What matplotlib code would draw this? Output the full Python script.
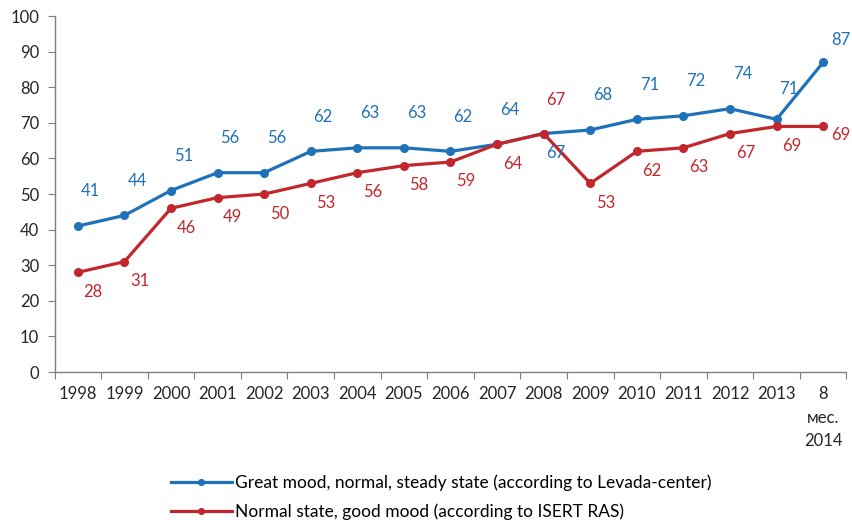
import numpy as np
import matplotlib
matplotlib.use('Agg')
import matplotlib.pyplot as plt

plt.rcParams['font.family'] = ['Lato', 'DejaVu Sans']

# data
years = ['1998', '1999', '2000', '2001', '2002', '2003', '2004', '2005', '2006',
         '2007', '2008', '2009', '2010', '2011', '2012', '2013', '8\nмес.\n2014']
levada = [41, 44, 51, 56, 56, 62, 63, 63, 62, 64, 67, 68, 71, 72, 74, 71, 87]
isert = [28, 31, 46, 49, 50, 53, 56, 58, 59, 64, 67, 53, 62, 63, 67, 69, 69]

levada_name = 'Great mood, normal, steady state (according to Levada-center)'
isert_name = 'Normal state, good mood (according to ISERT RAS)'

blue = '#1f72b8'
red = '#c1272d'
grey = '#7f7f7f'

fig = plt.figure(figsize=(8.52, 5.2), dpi=100)
ax = fig.add_axes([0.064, 0.2846, 0.9295, 0.6844])

x = np.arange(len(years))
ax.plot(x, levada, color=blue, lw=2.3, marker='o', ms=5.5, label=levada_name, zorder=3)
ax.plot(x, isert, color=red, lw=2.3, marker='o', ms=5.5, label=isert_name, zorder=3)

# value labels (offsets in points); a few are moved to avoid overlaps
blue_off = {10: (9, -14), 15: (9, 22), 16: (13, 16)}
red_off = {10: (9, 24), 16: (13, -6)}
for i, v in enumerate(levada):
    dx, dy = blue_off.get(i, (9, 25))
    ax.annotate(str(v), (x[i], v), xytext=(dx, dy), textcoords='offset points',
                ha='center', va='center', color=blue, fontsize=12)
for i, v in enumerate(isert):
    dx, dy = red_off.get(i, (11, -14))
    ax.annotate(str(v), (x[i], v), xytext=(dx, dy), textcoords='offset points',
                ha='center', va='center', color=red, fontsize=12)

ax.set_xlim(-0.5, len(years) - 0.5)
ax.set_ylim(0, 100)
ax.set_yticks(range(0, 101, 10))
ax.set_xticks(np.arange(-0.5, len(years)), minor=False)
ax.set_xticklabels([])
ax.set_xticks(x, minor=True)
ax.set_xticklabels(years, minor=True, linespacing=1.6, va='top')
ax.tick_params(axis='x', which='minor', length=0, pad=10, labelsize=12, colors='#262626')
ax.tick_params(axis='x', which='major', length=5, direction='out', color=grey)
ax.tick_params(axis='y', length=5, direction='out', color=grey, labelsize=12,
               labelcolor='#262626', pad=6)

for s in ['top', 'right']:
    ax.spines[s].set_visible(False)
for s in ['left', 'bottom']:
    ax.spines[s].set_color(grey)
    ax.spines[s].set_linewidth(1)

fig.legend(loc='upper center', bbox_to_anchor=(0.518, 0.118), frameon=False,
           fontsize=12.5, handlelength=3.5, labelspacing=0.75, handletextpad=0.2,
           markerscale=0.75)

fig.savefig('out.png', dpi=100)
